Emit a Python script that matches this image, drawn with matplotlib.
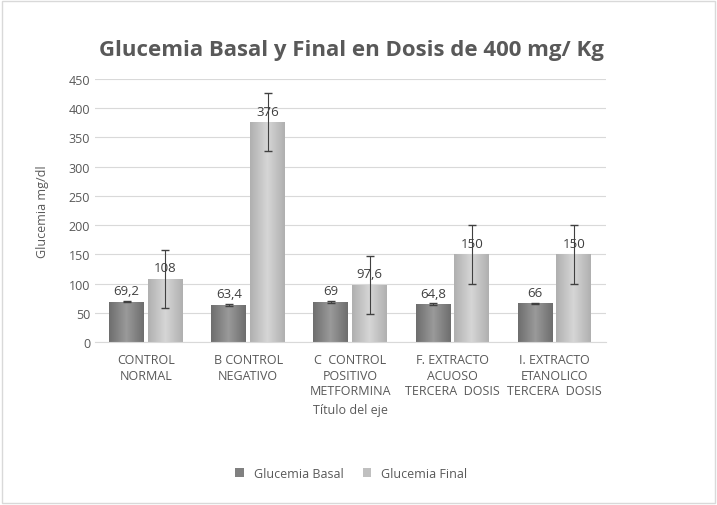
import numpy as np
import matplotlib
matplotlib.use('Agg')
import matplotlib.pyplot as plt
from matplotlib.colors import LinearSegmentedColormap

categories = ['CONTROL\nNORMAL', 'B CONTROL\nNEGATIVO', 'C  CONTROL\nPOSITIVO\nMETFORMINA',
              'F. EXTRACTO\nACUOSO\nTERCERA  DOSIS', 'I. EXTRACTO\nETANOLICO\nTERCERA  DOSIS']
basal = [69.2, 63.4, 69, 64.8, 66]
final = [108, 376, 97.6, 150, 150]
basal_err = [1.5, 1.5, 1.5, 1.5, 1.5]
final_err = [50, 50, 50, 50, 50]
basal_labels = ['69,2', '63,4', '69', '64,8', '66']
final_labels = ['108', '376', '97,6', '150', '150']

plt.rcParams['font.family'] = 'Open Sans'
txt = '#595959'

fig = plt.figure(figsize=(7.17, 5.06), dpi=100)
ax = fig.add_axes([0.1325, 0.322, 0.712, 0.52])
fig.patches.append(plt.Rectangle((0.003, 0.003), 0.994, 0.994, transform=fig.transFigure,
                                 fill=False, edgecolor='#d9d9d9', lw=1))

x = np.arange(len(categories))
w = 0.34
off = 0.19

def shade(bars, c_dark, c_light):
    cmap = LinearSegmentedColormap.from_list('g', [c_dark, c_light, c_dark])
    grad = np.linspace(0, 1, 64).reshape(1, -1)
    for b in bars:
        x0, y0 = b.get_x(), b.get_y()
        im = ax.imshow(grad, extent=[x0, x0 + b.get_width(), y0, y0 + b.get_height()],
                       aspect='auto', cmap=cmap, zorder=2)
        im.set_clip_path(b)

b1 = ax.bar(x - off, basal, w, color='#808080', zorder=2)
b2 = ax.bar(x + off, final, w, color='#c0c0c0', zorder=2)
shade(b1, '#6e6e6e', '#9a9a9a')
shade(b2, '#b0b0b0', '#d6d6d6')
ax.errorbar(x - off, basal, yerr=basal_err, fmt='none', ecolor='#404040', capsize=3, lw=0.8, zorder=3)
ax.errorbar(x + off, final, yerr=final_err, fmt='none', ecolor='#404040', capsize=3, lw=0.8, zorder=3)

for xi, v, s in zip(x - off, basal, basal_labels):
    ax.text(xi, v + 8, s, ha='center', va='bottom', fontsize=9.5, color='#404040', zorder=4)
for xi, v, s in zip(x + off, final, final_labels):
    ax.text(xi, v + 8, s, ha='center', va='bottom', fontsize=9.5, color='#404040', zorder=4)

ax.set_xlim(-0.5, len(categories) - 0.5)
ax.set_ylim(0, 450)
ax.set_yticks(range(0, 451, 50))
ax.yaxis.grid(True, color='#d9d9d9', lw=0.8, zorder=0)
ax.set_axisbelow(True)
for sp in ['top', 'right', 'left']:
    ax.spines[sp].set_visible(False)
ax.spines['bottom'].set_color('#d9d9d9')
ax.tick_params(axis='both', length=0, colors=txt, labelsize=9)
ax.set_xticks(x)
ax.set_xticklabels(categories, fontsize=9, color=txt, linespacing=1.25)
ax.tick_params(axis='x', pad=8)
ax.set_ylabel('Glucemia mg/dl', fontsize=9, color=txt, labelpad=14)
ax.set_xlabel('Título del eje', fontsize=9, color=txt, labelpad=4)

fig.text(0.49, 0.9, 'Glucemia Basal y Final en Dosis de 400 mg/ Kg', ha='center', va='center',
         fontsize=16, fontweight='bold', color=txt)
fig.legend([b1[0], b2[0]], ['Glucemia Basal', 'Glucemia Final'], loc='center',
           bbox_to_anchor=(0.49, 0.062), ncol=2, frameon=False, fontsize=9,
           handlelength=0.7, handleheight=0.7, columnspacing=1.5, labelcolor=txt)

fig.savefig('out.png', dpi=100, facecolor='white')
